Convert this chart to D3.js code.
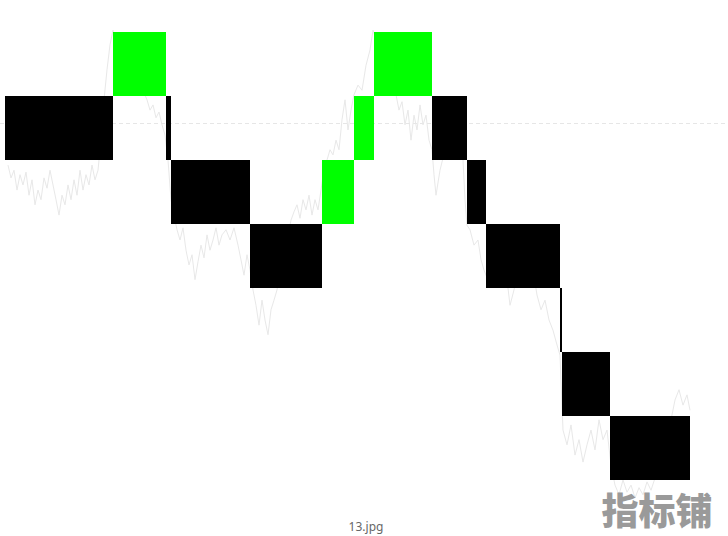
<!DOCTYPE html>
<html>
<head>
<meta charset="utf-8">
<script src="https://cdn.jsdelivr.net/npm/d3@7"></script>
<style>
html,body{margin:0;padding:0;background:#fff;}
svg{display:block;}
</style>
</head>
<body>
<svg id="chart" width="728" height="536"></svg>
<script>
// Renko bricks
const brickStart = [0,108,161,166,245,317,349,369,427,462,481,555,557,605];
const brickEnd   = [108,161,166,245,317,349,369,427,462,481,555,557,605,685];
const brickOpen  = [160,160,160,150,140,140,150,160,160,150,140,130,120,110];
const brickClose = [150,170,150,140,130,150,160,170,150,140,130,120,110,100];

// underlying price (faint line)
const lineTime = [3,6,9,12,15,18,21,24,27,30,33,36,39,42,45,48,51,54,57,60,63,66,69,72,75,78,81,84,87,90,93,96,99,102,105,108,111,120,130,138,142,145,148,151,154,157,160,163,166,169,172,175,178,181,184,187,190,193,196,199,202,205,208,211,214,217,221,225,229,233,236,239,242,245,248,251,254,257,260,263,266,269,272,275,279,283,286,289,292,295,298,301,304,307,310,313,316,319,322,325,328,331,334,337,340,343,346,349,353,357,361,365,368,371,380,387,391,394,397,400,403,406,409,412,415,418,421,424,427,429,431,435,440,445,450,455,458,460,462,465,469,473,476,479,482,487,492,497,502,505,509,513,518,523,528,532,536,540,544,548,552,555,558,562,566,570,574,578,582,586,590,594,598,602,606,610,614,618,622,626,630,634,638,642,646,650,654,658,662,666,670,674,678,682,685];
const lineClose = [149.2,147.2,148.4,145.3,147.7,146.1,148.1,144.5,146.9,143.0,145.3,143.8,147.2,145.6,148.4,146.1,143.8,141.4,144.5,143.0,146.1,143.8,146.9,144.5,148.4,145.3,147.7,146.1,149.2,146.9,148.4,153.1,159.4,164.1,168.0,170.3,167.2,165.6,163.3,160.9,159.4,157.8,158.6,156.6,157.5,155.5,153.9,150.0,143.8,141.4,139.1,137.5,139.4,135.9,133.6,135.2,131.3,134.1,136.7,134.7,138.3,135.9,137.5,139.4,136.7,138.3,139.1,137.5,139.4,136.7,134.4,132.0,135.2,132.8,129.7,127.3,124.2,128.1,125.0,122.7,126.6,128.1,129.7,132.8,135.9,138.3,140.6,141.9,143.0,140.9,143.8,142.2,144.5,141.4,143.8,142.2,145.3,148.4,150.0,151.6,150.8,153.1,151.6,156.3,159.4,154.7,157.8,160.2,161.7,160.9,164.8,167.2,170.3,168.8,165.6,162.5,160.2,157.8,159.1,155.5,157.8,153.1,157.0,154.7,158.6,155.5,157.0,153.1,151.6,147.7,144.5,148.4,151.6,153.1,152.3,151.6,150.0,143.8,139.8,139.1,136.7,137.5,134.4,132.8,131.6,133.6,135.9,135.2,131.3,127.3,129.7,132.8,134.4,135.2,132.8,128.9,126.6,128.1,125.0,123.4,121.1,119.5,107.8,105.5,108.6,103.9,106.3,102.8,105.5,107.8,104.7,109.4,106.3,107.8,102.3,99.2,97.7,100.0,98.1,99.2,97.2,98.8,97.7,99.7,98.4,100.3,101.6,103.9,106.3,109.4,112.5,114.1,111.7,113.3,110.9];

const refLevel = 155.7;
const captionText = "13.jpg";
const watermarkText = "指标铺";

const svg = d3.select("#chart");
const x = d3.scaleLinear().domain([0, 685]).range([5, 690]);
const y = d3.scaleLinear().domain([100, 170]).range([480, 32]);

// dashed reference line
svg.append("line")
  .attr("x1", 0).attr("x2", 728)
  .attr("y1", y(refLevel)).attr("y2", y(refLevel))
  .attr("stroke", "#e6e6e6").attr("stroke-width", 1)
  .attr("stroke-dasharray", "4,3");

// price line
const pts = lineTime.map((t, i) => [t, lineClose[i]]);
svg.append("path")
  .datum(pts)
  .attr("fill", "none")
  .attr("stroke", "#e8e8e8")
  .attr("stroke-width", 1)
  .attr("d", d3.line().x(d => x(d[0])).y(d => y(d[1])));

// bricks
const bricks = brickStart.map((s, i) => ({s, e: brickEnd[i], o: brickOpen[i], c: brickClose[i]}));
svg.append("g").selectAll("rect").data(bricks).join("rect")
  .attr("x", d => x(d.s))
  .attr("width", d => x(d.e) - x(d.s))
  .attr("y", d => y(Math.max(d.o, d.c)))
  .attr("height", d => y(Math.min(d.o, d.c)) - y(Math.max(d.o, d.c)))
  .attr("fill", d => d.c > d.o ? "#00ff00" : "#000000")
  .attr("shape-rendering", "crispEdges");

// caption
svg.append("text")
  .attr("x", 366).attr("y", 531)
  .attr("text-anchor", "middle")
  .attr("font-family", "Noto Sans, DejaVu Sans, sans-serif")
  .attr("font-size", 12)
  .attr("fill", "#666")
  .text(captionText);

// watermark
svg.append("text")
  .attr("x", 657).attr("y", 525)
  .attr("text-anchor", "middle")
  .attr("font-family", "Noto Sans CJK SC, sans-serif")
  .attr("font-weight", 900)
  .attr("font-size", 37)
  .attr("fill", "#9a9a9a")
  .text(watermarkText);
</script>
</body>
</html>
